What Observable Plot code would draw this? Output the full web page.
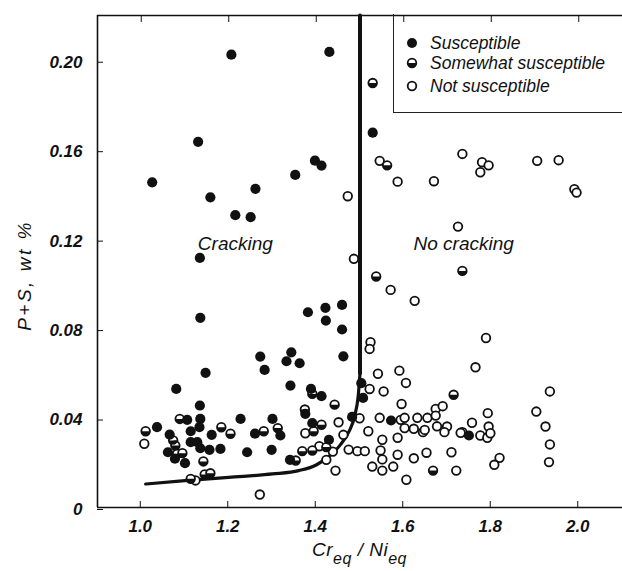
<!DOCTYPE html>
<html><head><meta charset="utf-8">
<script src="https://cdn.jsdelivr.net/npm/d3@7"></script>
<script src="https://cdn.jsdelivr.net/npm/@observablehq/plot@0.6"></script>
<style>
body{margin:0;background:#fff;}
#wrap{position:relative;width:622px;height:571px;font-family:"Liberation Sans",Arial,sans-serif;color:#111;}
#legend{position:absolute;left:393px;top:14px;width:229px;height:99px;border-left:1.6px solid #222;border-bottom:1.6px solid #222;box-sizing:border-box;}
#legend .row{position:absolute;left:0;height:20px;display:flex;align-items:center;font-style:italic;font-size:17.5px;}
#legend svg{margin-left:12px;margin-right:12px;}
#xtitle{position:absolute;left:97px;width:525px;top:539px;text-align:center;font-style:italic;font-size:19px;letter-spacing:0.5px;}
#xtitle sub{font-size:16px;vertical-align:-8px;line-height:0;}
.ytitle text{letter-spacing:2.5px;}
</style></head><body>
<div id="wrap">
  <div id="chart"></div>
  <div id="legend"></div>
  <div id="xtitle">Cr<sub>eq</sub> / Ni<sub>eq</sub></div>
</div>
<script>
// ---- data: [Cr_eq/Ni_eq, P+S wt%] ----
const susceptible = [
  [1.025,0.1454],[1.130,0.1635],[1.206,0.2025],[1.430,0.2037],[1.158,0.1387],[1.215,0.1307],
  [1.250,0.1298],[1.261,0.1425],[1.352,0.1487],[1.397,0.1551],[1.412,0.1529],[1.529,0.1676],
  [1.134,0.1116],[1.135,0.0848],[1.147,0.0602],[1.080,0.0530],[1.381,0.0873],[1.421,0.0893],
  [1.422,0.0836],[1.459,0.0906],[1.459,0.0796],[1.462,0.0676],[1.272,0.0675],[1.282,0.0615],
  [1.332,0.0654],[1.343,0.0694],[1.362,0.0645],[1.341,0.0545],[1.388,0.0530],[1.412,0.0498],
  [1.503,0.0556],[1.507,0.0490],[1.134,0.0456],[1.036,0.0359],[1.105,0.0392],[1.135,0.0396],
  [1.133,0.0359],[1.113,0.0341],[1.065,0.0326],[1.161,0.0325],[1.227,0.0396],[1.300,0.0396],
  [1.375,0.0419],[1.482,0.0405],[1.113,0.0292],[1.128,0.0292],[1.135,0.0265],[1.156,0.0258],
  [1.181,0.0262],[1.061,0.0247],[1.077,0.0218],[1.100,0.0198],[1.242,0.0247],[1.260,0.0330],
  [1.318,0.0322],[1.298,0.0258],[1.429,0.0303],[1.340,0.0213],[1.571,0.0389],[1.749,0.0322],
  [1.391,0.0377]
];
const somewhat = [
  [1.529,0.1898],[1.562,0.1530],[1.537,0.1033],[1.734,0.1058],[1.714,0.0504],[1.391,0.0508],
  [1.442,0.0460],[1.374,0.0438],[1.010,0.0341],[1.088,0.0396],[1.183,0.0359],[1.204,0.0330],
  [1.073,0.0300],[1.078,0.0277],[1.082,0.0240],[1.094,0.0243],[1.142,0.0206],[1.113,0.0128],
  [1.145,0.0148],[1.158,0.0153],[1.280,0.0341],[1.312,0.0355],[1.412,0.0370],[1.394,0.0341],
  [1.368,0.0252],[1.391,0.0255],[1.423,0.0270],[1.353,0.0210],[1.667,0.0165]
];
const notSusceptible = [
  [1.472,0.1392],[1.486,0.1112],[1.545,0.1550],[1.586,0.1457],[1.669,0.1459],[1.734,0.1581],
  [1.779,0.1544],[1.794,0.1530],[1.775,0.1499],[1.905,0.1550],[1.954,0.1553],[1.990,0.1423],
  [1.995,0.1408],[1.724,0.1256],[1.570,0.0973],[1.625,0.0924],[1.788,0.0758],[1.764,0.0627],
  [1.524,0.0739],[1.522,0.0709],[1.541,0.0598],[1.590,0.0612],[1.605,0.0557],[1.522,0.0530],
  [1.554,0.0519],[1.595,0.0463],[1.673,0.0441],[1.689,0.0453],[1.934,0.0519],[1.792,0.0422],
  [1.903,0.0429],[1.756,0.0379],[1.794,0.0362],[1.924,0.0362],[1.734,0.0337],[1.775,0.0322],
  [1.791,0.0312],[1.798,0.0332],[1.934,0.0282],[1.819,0.0222],[1.807,0.0191],[1.932,0.0203],
  [1.499,0.0399],[1.545,0.0401],[1.593,0.0392],[1.602,0.0401],[1.631,0.0401],[1.654,0.0401],
  [1.673,0.0411],[1.602,0.0355],[1.623,0.0352],[1.644,0.0337],[1.648,0.0347],[1.676,0.0363],
  [1.699,0.0362],[1.693,0.0337],[1.730,0.0334],[1.519,0.0341],[1.462,0.0325],[1.474,0.0259],
  [1.494,0.0252],[1.511,0.0252],[1.551,0.0303],[1.586,0.0312],[1.547,0.0255],[1.551,0.0215],
  [1.586,0.0236],[1.623,0.0220],[1.652,0.0245],[1.709,0.0247],[1.528,0.0183],[1.551,0.0165],
  [1.576,0.0183],[1.720,0.0165],[1.606,0.0124],[1.007,0.0285],[1.124,0.0121],[1.451,0.0381],
  [1.375,0.0332],[1.407,0.0274],[1.438,0.0250],[1.423,0.0213],[1.444,0.0165],[1.271,0.0058]
];
// boundary between cracking / no cracking
const boundaryCurve = [
  [1.01,0.0105],[1.10,0.0120],[1.20,0.0135],[1.30,0.0150],[1.36,0.0165],[1.40,0.0190],
  [1.43,0.0230],[1.455,0.0280],[1.475,0.0340],[1.488,0.0410],[1.496,0.0500],[1.500,0.0600]
];
const boundaryVertical = [[1.500,0.0600],[1.500,0.22]];
const regionLabels = ["Cracking","No cracking"];
const regionLabelX = [1.215,1.737];
const regionLabelY = [0.118,0.118];
const xTicks = [1.0,1.2,1.4,1.6,1.8,2.0];
const xTickLabels = ["1.0","1.2","1.4","1.6","1.8","2.0"];
const yTicks = [0,0.04,0.08,0.12,0.16,0.20];
const yTickLabels = ["0","0.04","0.08","0.12","0.16","0.20"];
const legendItems = ["Susceptible","Somewhat susceptible","Not susceptible"];

const xLab = new Map(xTicks.map((t,i)=>[t,xTickLabels[i]]));
const yLab = new Map(yTicks.map((t,i)=>[t,yTickLabels[i]]));
const halfBottom = {draw(ctx, size){ const r = Math.sqrt(size/Math.PI); ctx.moveTo(r,0); ctx.arc(0,0,r,0,Math.PI); ctx.closePath(); }};
const ink = "#111";
const R = 4.3, SW = 1.8;

const labels = regionLabels.map((t,i)=>({t, x: regionLabelX[i], y: regionLabelY[i]}));

const chart = Plot.plot({
  width: 622, height: 536,
  marginLeft: 97, marginRight: 0, marginTop: 15, marginBottom: 29,
  x: {domain: [0.9, 2.1]},
  y: {domain: [0, 0.22]},
  style: {fontFamily: '"Liberation Sans", Arial, sans-serif', fontSize: "16px", color: ink, background: "transparent", overflow: "visible"},
  marks: [
    Plot.ruleY([0, 0.22], {stroke: ink, strokeWidth: 1.6}),
    Plot.ruleX([0.9], {stroke: ink, strokeWidth: 1.6}),
    Plot.axisX(xTicks, {anchor: "bottom", tickSize: -6, tickPadding: 18, tickFormat: d => xLab.get(d), label: null, fontStyle: "italic", fontWeight: "bold", fontSize: 17, dx: -1, stroke: ink}),
    Plot.axisX(xTicks, {anchor: "top", tickSize: -6, tickFormat: () => "", label: null, stroke: ink}),
    Plot.axisY(yTicks, {anchor: "left", tickSize: -6, tickPadding: 21, tickFormat: d => yLab.get(d), label: null, fontStyle: "italic", fontWeight: "bold", fontSize: 17, dy: 2, stroke: ink}),
    Plot.text(["P+S, wt %"], {frameAnchor: "left", textAnchor: "middle", rotate: -90, dx: -73, dy: 14, fontStyle: "italic", fontSize: 19, fill: ink, className: "ytitle"}),
    Plot.line(boundaryCurve, {x: d => d[0], y: d => d[1], stroke: ink, strokeWidth: 3.2, curve: "monotone-x"}),
    Plot.line(boundaryVertical, {x: d => d[0], y: d => d[1], stroke: ink, strokeWidth: 4}),
    Plot.text(labels, {x: "x", y: "y", text: "t", fontStyle: "italic", fontSize: 19, fill: ink}),
    Plot.dot(notSusceptible, {x: d => d[0], y: d => d[1], r: R, fill: "white", stroke: ink, strokeWidth: SW}),
    Plot.dot(somewhat, {x: d => d[0], y: d => d[1], r: R, fill: "white", stroke: ink, strokeWidth: SW}),
    Plot.dot(somewhat, {x: d => d[0], y: d => d[1], r: R, symbol: halfBottom, fill: ink, stroke: "none"}),
    Plot.dot(susceptible, {x: d => d[0], y: d => d[1], r: R + 0.8, fill: ink, stroke: "none"})
  ]
});
document.getElementById("chart").appendChild(chart);

// legend (inside the plot frame, top-right)
const leg = document.getElementById("legend");
const rowTops = [19, 39, 62];
legendItems.forEach((name, i) => {
  const row = document.createElement("div");
  row.className = "row";
  row.style.top = rowTops[i] + "px";
  const c = 'cx="6" cy="6"';
  let sym;
  if (i === 0) sym = `<circle ${c} r="5" fill="${ink}"/>`;
  else if (i === 1) sym = `<circle ${c} r="4.3" fill="white" stroke="${ink}" stroke-width="1.8"/><path d="M10.3,6 A4.3,4.3 0 0 1 1.7,6 Z" fill="${ink}"/>`;
  else sym = `<circle ${c} r="4.3" fill="white" stroke="${ink}" stroke-width="1.8"/>`;
  row.innerHTML = `<svg width="12" height="12" viewBox="0 0 12 12">${sym}</svg><span>${name}</span>`;
  leg.appendChild(row);
});
</script>
</body></html>
